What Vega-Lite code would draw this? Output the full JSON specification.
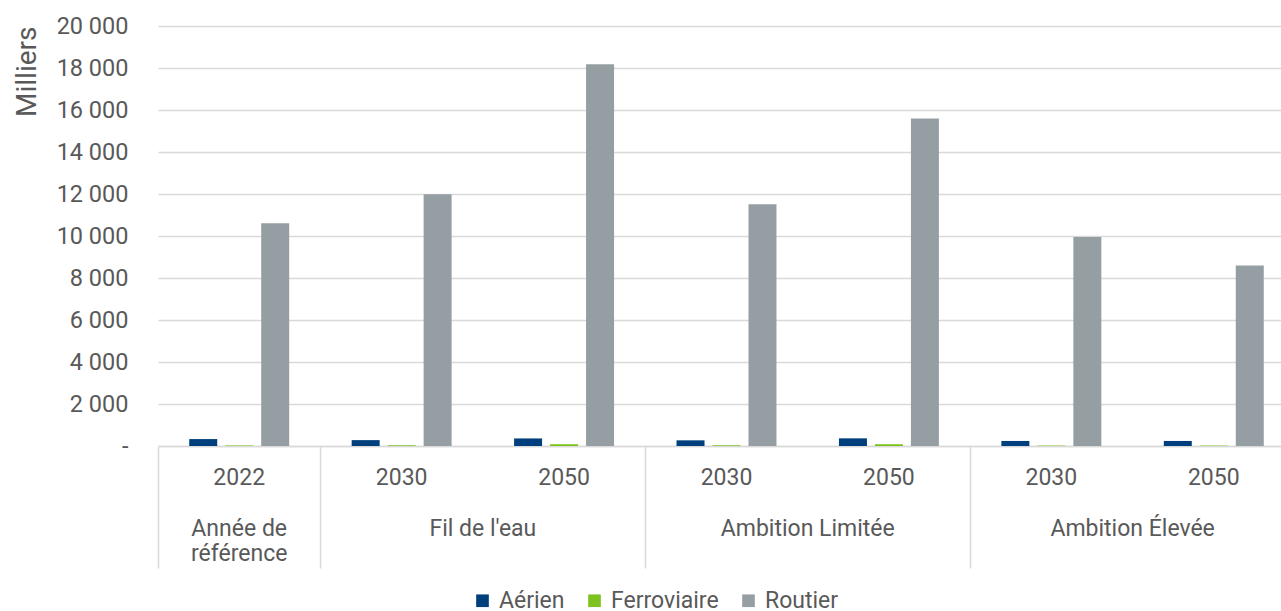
{
  "$schema": "https://vega.github.io/schema/vega-lite/v6.json",
  "width": 1137,
  "height": 420,
  "autosize": {"type": "none"},
  "padding": {"left": 158, "top": 26, "right": 0, "bottom": 190},
  "background": "white",
  "config": {"font": "Roboto", "view": {"stroke": null}},
  "data": {
    "values": [
      {"scenario": "Année de référence", "year": "2022", "mode": "Aérien", "value": 330},
      {"scenario": "Année de référence", "year": "2022", "mode": "Ferroviaire", "value": 25},
      {"scenario": "Année de référence", "year": "2022", "mode": "Routier", "value": 10610},
      {"scenario": "Fil de l'eau", "year": "2030", "mode": "Aérien", "value": 280},
      {"scenario": "Fil de l'eau", "year": "2030", "mode": "Ferroviaire", "value": 35},
      {"scenario": "Fil de l'eau", "year": "2030", "mode": "Routier", "value": 11990},
      {"scenario": "Fil de l'eau", "year": "2050", "mode": "Aérien", "value": 360},
      {"scenario": "Fil de l'eau", "year": "2050", "mode": "Ferroviaire", "value": 85},
      {"scenario": "Fil de l'eau", "year": "2050", "mode": "Routier", "value": 18180},
      {"scenario": "Ambition Limitée", "year": "2030", "mode": "Aérien", "value": 270},
      {"scenario": "Ambition Limitée", "year": "2030", "mode": "Ferroviaire", "value": 35},
      {"scenario": "Ambition Limitée", "year": "2030", "mode": "Routier", "value": 11510},
      {"scenario": "Ambition Limitée", "year": "2050", "mode": "Aérien", "value": 365},
      {"scenario": "Ambition Limitée", "year": "2050", "mode": "Ferroviaire", "value": 85},
      {"scenario": "Ambition Limitée", "year": "2050", "mode": "Routier", "value": 15600},
      {"scenario": "Ambition Élevée", "year": "2030", "mode": "Aérien", "value": 240},
      {"scenario": "Ambition Élevée", "year": "2030", "mode": "Ferroviaire", "value": 20},
      {"scenario": "Ambition Élevée", "year": "2030", "mode": "Routier", "value": 9950},
      {"scenario": "Ambition Élevée", "year": "2050", "mode": "Aérien", "value": 240},
      {"scenario": "Ambition Élevée", "year": "2050", "mode": "Ferroviaire", "value": 20},
      {"scenario": "Ambition Élevée", "year": "2050", "mode": "Routier", "value": 8590}
    ]
  },
  "transform": [{"calculate": "datum.scenario + '|' + datum.year", "as": "cat"}],
  "layer": [
    {
      "mark": {"type": "bar"},
      "encoding": {
        "x": {
          "field": "cat", "type": "nominal", "sort": null,
          "scale": {"paddingInner": 0, "paddingOuter": 0},
          "axis": {
            "orient": "bottom", "title": null,
            "labelExpr": "split(datum.value, '|')[1]",
            "labelAngle": 0, "labelFontSize": 23, "labelColor": "#595959",
            "labelPadding": 20, "ticks": false, "grid": false,
            "domainColor": "#d9d9d9", "domainWidth": 1.5, "labelOverlap": false
          }
        },
        "xOffset": {
          "field": "mode", "type": "nominal",
          "sort": ["Aérien", "Ferroviaire", "Routier"],
          "scale": {"paddingInner": 0.222, "paddingOuter": 0.868}
        },
        "y": {
          "field": "value", "type": "quantitative",
          "scale": {"domain": [0, 20000]},
          "axis": {
            "title": "Milliers", "titleFontSize": 28, "titleFontWeight": "normal",
            "titleColor": "#595959", "titleAnchor": "end", "titlePadding": 15,
            "labelFontSize": 23.5, "labelColor": "#595959", "labelPadding": 30,
            "ticks": false, "domain": false,
            "gridColor": "#d9d9d9", "gridWidth": 1.5,
            "values": [0, 2000, 4000, 6000, 8000, 10000, 12000, 14000, 16000, 18000, 20000],
            "labelExpr": "datum.value == 0 ? '-\u00a0\u00a0\u00a0\u00a0' : replace(format(datum.value, ','), ',', ' ')"
          }
        },
        "color": {
          "field": "mode", "type": "nominal",
          "scale": {"domain": ["Aérien", "Ferroviaire", "Routier"], "range": ["#003F7D", "#7DC21E", "#959FA3"]},
          "legend": {
            "orient": "none", "legendX": 313, "legendY": 563, "direction": "horizontal",
            "title": null, "labelFontSize": 23, "labelColor": "#595959",
            "symbolType": "square", "symbolSize": 160, "symbolStrokeWidth": 0,
            "labelOffset": 5, "columnPadding": 18
          }
        }
      }
    },
    {
      "mark": {"type": "point", "opacity": 0},
      "encoding": {
        "x": {
          "field": "cat", "type": "nominal", "sort": null,
          "axis": {
            "orient": "bottom", "title": null, "labels": false, "domain": false, "grid": false,
            "bandPosition": 0, "ticks": true, "tickSize": 122, "tickColor": "#d9d9d9", "tickWidth": 1.5,
            "tickOpacity": {"condition": {"test": "split(datum.value, '|')[1] != '2050'", "value": 1}, "value": 0}
          }
        }
      }
    },
    {
      "mark": {"type": "point", "opacity": 0},
      "encoding": {
        "x": {
          "field": "cat", "type": "nominal", "sort": null,
          "axis": {
            "orient": "bottom", "title": null, "ticks": false, "domain": false, "grid": false,
            "labelAngle": 0, "labelFontSize": 23, "labelColor": "#595959", "labelPadding": 71,
            "labelLineHeight": 25, "labelLimit": 400, "labelOverlap": false, "labelBaseline": "top",
            "labelExpr": "split(datum.value, '|')[1] == '2050' ? '' : (split(datum.value, '|')[0] == 'Année de référence' ? ['Année de', 'référence'] : split(datum.value, '|')[0])",
            "labelOffset": {"condition": {"test": "split(datum.value, '|')[1] == '2030'", "value": 81.25}, "value": 0}
          }
        }
      }
    }
  ],
  "resolve": {"axis": {"x": "independent"}}
}
